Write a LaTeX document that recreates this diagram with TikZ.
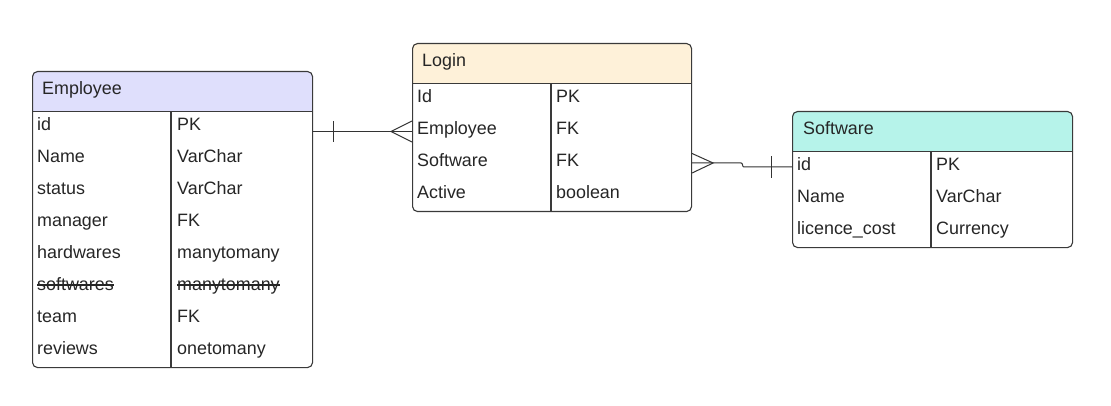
\documentclass[tikz,border=0pt]{standalone}
\usepackage{fontspec}
\setmainfont{Liberation Sans}
\definecolor{bordercol}{HTML}{3A3A3A}
\definecolor{textcol}{HTML}{262626}
\definecolor{linecol}{HTML}{333333}
\definecolor{empfill}{HTML}{DFDFFC}
\definecolor{logfill}{HTML}{FEF1D9}
\definecolor{softfill}{HTML}{B6F3EA}
\newcommand\cellfont{\fontsize{17.9pt}{20pt}\selectfont}
\tikzset{
  tblbox/.style={draw=bordercol, line width=1.1pt, rounded corners=5pt, inner sep=0pt, anchor=north west},
  sepline/.style={draw=bordercol, line width=1.1pt},
  cell/.style={anchor=base west, inner sep=0pt, font=\cellfont, text=textcol},
  conn/.style={draw=linecol, line width=1pt},
  strike/.style={draw=textcol, line width=1.2pt},
}
\begin{document}
\begin{tikzpicture}[x=1pt,y=-1pt]
\useasboundingbox[fill=white] (0,0) rectangle (1111,406);

% ---------- Employee ----------
\begin{scope}
  \clip[rounded corners=5pt] (32,71) rectangle (312,367);
  \fill[empfill] (32,71) rectangle (312,111.5);
\end{scope}
\node[tblbox, minimum width=280pt, minimum height=296pt] (emp) at (32,71) {};
\draw[sepline] (32,111.5) -- (312,111.5);
\draw[sepline] (171,111.5) -- (171,367);
\node[cell] (emp-h) at (42,95) {Employee};
\foreach \a/\b [count=\i] in {id/PK, Name/VarChar, status/VarChar, manager/FK, hardwares/manytomany, softwares/manytomany, team/FK, reviews/onetomany}{
  \node[cell] (emp-a\i) at (37, 98.5+32*\i) {\a};
  \node[cell] (emp-b\i) at (177, 98.5+32*\i) {\b};
}
\draw[strike] ([yshift=5.5pt]emp-a6.base west) -- ([yshift=5.5pt]emp-a6.base east);
\draw[strike] ([yshift=5.5pt]emp-b6.base west) -- ([yshift=5.5pt]emp-b6.base east);

% ---------- Login ----------
\begin{scope}
  \clip[rounded corners=5pt] (412,43) rectangle (691,211);
  \fill[logfill] (412,43) rectangle (691,83.5);
\end{scope}
\node[tblbox, minimum width=279pt, minimum height=168pt] (login) at (412,43) {};
\draw[sepline] (412,83.5) -- (691,83.5);
\draw[sepline] (551,83.5) -- (551,211);
\node[cell] (login-h) at (422,67) {Login};
\foreach \a/\b [count=\i] in {Id/PK, Employee/FK, Software/FK, Active/boolean}{
  \node[cell] (login-a\i) at (417, 70.5+32*\i) {\a};
  \node[cell] (login-b\i) at (556, 70.5+32*\i) {\b};
}

% ---------- Software ----------
\begin{scope}
  \clip[rounded corners=5pt] (792,111) rectangle (1072,247);
  \fill[softfill] (792,111) rectangle (1072,151.5);
\end{scope}
\node[tblbox, minimum width=280pt, minimum height=136pt] (soft) at (792,111) {};
\draw[sepline] (792,151.5) -- (1072,151.5);
\draw[sepline] (931,151.5) -- (931,247);
\node[cell] (soft-h) at (803,135) {Software};
\foreach \a/\b [count=\i] in {id/PK, Name/VarChar, licence\_cost/Currency}{
  \node[cell] (soft-a\i) at (797, 138.5+32*\i) {\a};
  \node[cell] (soft-b\i) at (936, 138.5+32*\i) {\b};
}

% ---------- Connector Employee -- Login ----------
\coordinate (c1a) at (emp.east |- 0,131.5);
\coordinate (c1b) at (login.west |- 0,131.5);
\draw[conn] (c1a) -- (c1b);
\draw[conn] ([xshift=20pt,yshift=-10.5pt]c1a) -- ([xshift=20pt,yshift=10.5pt]c1a);
\draw[conn] ([yshift=-10.5pt]c1b) -- ([xshift=-21pt]c1b) -- ([yshift=10.5pt]c1b);

% ---------- Connector Login -- Software ----------
\coordinate (c2a) at (login.east |- 0,163);
\coordinate (c2b) at (soft.west |- 0,167);
\draw[conn] (c2a) -- ([xshift=49pt]c2a) .. controls ([xshift=51pt]c2a) and ([xshift=-50pt]c2b) .. ([xshift=-48pt]c2b) -- (c2b);
\draw[conn] ([yshift=-10pt]c2a) -- ([xshift=21pt]c2a) -- ([yshift=9.5pt]c2a);
\draw[conn] ([xshift=-21pt,yshift=-11pt]c2b) -- ([xshift=-21pt,yshift=11pt]c2b);
\end{tikzpicture}
\end{document}
